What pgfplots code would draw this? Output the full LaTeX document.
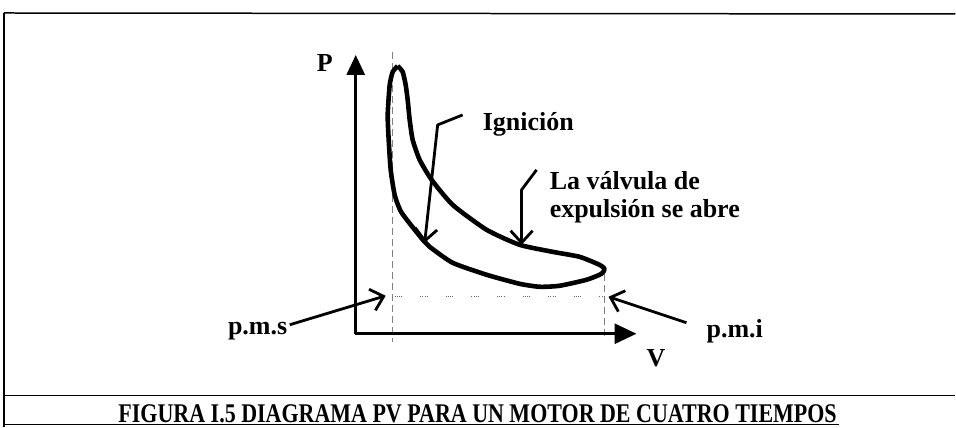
\documentclass[border=0pt]{standalone}
\usepackage{pgfplots}
\pgfplotsset{compat=1.18}
\usepackage{fontspec}
\setmainfont{Liberation Serif}
\usetikzlibrary{arrows.meta}
\begin{document}
\begin{tikzpicture}
\begin{axis}[
  scale only axis, width=956pt, height=428pt,
  xmin=0, xmax=956, ymin=0, ymax=428, y dir=reverse,
  hide axis, clip=false,
]
% frame
\addplot[black, line width=1.5pt] coordinates {(4,13) (956,14)};
\addplot[black, line width=1.3pt] coordinates {(4,13) (4,427)};
\addplot[black, line width=1.5pt] coordinates {(4,396) (956,396)};
\addplot[black, line width=1.3pt] coordinates {(4,425) (840,425)};
% dashed guide lines
\addplot[gray, line width=0.8pt, dash pattern=on 7pt off 4pt] coordinates {(393,52) (393,342)};
\addplot[gray, line width=0.8pt, dash pattern=on 7pt off 4pt] coordinates {(605,274) (605,336)};
\addplot[gray!80!black, line width=1pt, dash pattern=on 1pt off 1.2pt on 1pt off 1.2pt on 1pt off 1.2pt on 1pt off 18pt] coordinates {(395,297) (605,297)};
% axes
\addplot[black, line width=3pt, -{Triangle[length=20pt,width=18pt]}] coordinates {(356,334) (356,55)};
\addplot[black, line width=3pt, -{Triangle[length=22pt,width=20pt]}] coordinates {(355,334) (637,334)};
% PV loop
\addplot[black, line width=4.6pt, line join=round, smooth, tension=0.35] coordinates {
(398,66) (403,72) (406,85) (408,100) (410,120) (413,140) (420,160) (432,180)
(453,205) (487,230) (520,245) (553,252) (580,257) (600,265) (605,269) (602,274)
(587,280) (560,286) (540,287) (520,284) (487,275) (453,263) (430,247) (424,241)
(402,213) (395,195) (391,170) (389,140) (388,115) (390,85) (393,72) (398,66)};
% annotation arrows
\addplot[black, line width=2.8pt, line join=round, -{Straight Barb[length=12pt,width=22pt,line width=2.8pt]}] coordinates {(463,115) (438,125) (425,243)};
\addplot[black, line width=2.8pt, line join=round, -{Straight Barb[length=12pt,width=22pt,line width=2.8pt]}] coordinates {(537,170) (522,190) (522,245)};
\addplot[black, line width=2.8pt, -{Straight Barb[length=12pt,width=22pt,line width=2.8pt]}] coordinates {(290,325) (386,296)};
\addplot[black, line width=2.8pt, -{Straight Barb[length=12pt,width=22pt,line width=2.8pt]}] coordinates {(687,323) (609,297)};
% labels
\node[anchor=base west, inner sep=0pt, font=\fontsize{26}{28}\selectfont\bfseries] at (axis cs:317,72) {P};
\node[anchor=base west, inner sep=0pt, font=\fontsize{26}{28}\selectfont\bfseries] at (axis cs:647,367) {V};
\node[anchor=base west, inner sep=0pt, font=\fontsize{26}{28}\selectfont\bfseries] at (axis cs:483,131) {Ignición};
\node[anchor=base west, inner sep=0pt, font=\fontsize{26}{28}\selectfont\bfseries] at (axis cs:550,190) {La válvula de};
\node[anchor=base west, inner sep=0pt, font=\fontsize{26}{28}\selectfont\bfseries] at (axis cs:550,218) {expulsión se abre};
\node[anchor=base west, inner sep=0pt, font=\fontsize{26}{28}\selectfont\bfseries] at (axis cs:228,335) {p.m.s};
\node[anchor=base west, inner sep=0pt, font=\fontsize{26}{28}\selectfont\bfseries] at (axis cs:707,338) {p.m.i};
\node[anchor=base, inner sep=0pt] at (axis cs:478,423) {\scalebox{0.815}[1]{\fontsize{27}{30}\selectfont\bfseries FIGURA I.5 DIAGRAMA PV PARA UN MOTOR DE CUATRO TIEMPOS}};
\end{axis}
\path (current axis.south west) rectangle (current axis.north east);
\end{tikzpicture}
\end{document}
